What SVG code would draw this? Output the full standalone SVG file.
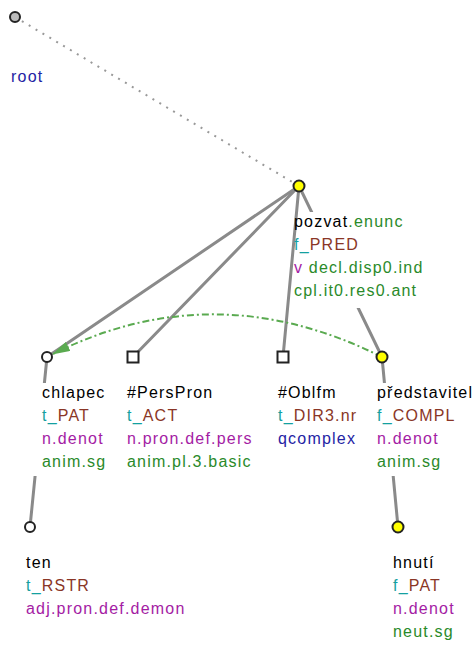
<svg xmlns="http://www.w3.org/2000/svg" width="475" height="646" viewBox="0 0 475 646">
<style>
text{font-family:"Liberation Sans",Arial,sans-serif;font-size:16px;letter-spacing:1.2px;fill:#000}
.edge{stroke:#8a8a8a;stroke-width:3;stroke-linecap:round;fill:none}
.root-edge{stroke:#999;stroke-width:2;stroke-dasharray:2 6;fill:none}
.coref{stroke:#5aaa50;stroke-width:2;stroke-dasharray:7 3 2 3;fill:none}
.bg{fill:#fff}
.circ{stroke:#222;stroke-width:2}
.yel{fill:#ffff00}
.wht{fill:#fff}
.sq{fill:#fff;stroke:#222;stroke-width:2}
.fp{fill:#14a0a0}
.fn{fill:#8a3626}
.pu{fill:#a41ca4}
.gr{fill:#2a8a2a}
.bl{fill:#2424a4}
</style>
<defs>
<marker id="arr" markerUnits="userSpaceOnUse" markerWidth="19" markerHeight="10" refX="18" refY="5" orient="auto">
<path d="M0,0 L18,5 L0,10 z" fill="#5aaa50"/>
</marker>
</defs>
<g id="connectors">
<line class="root-edge" x1="15" y1="17" x2="299" y2="186"/>
<line class="edge" x1="299" y1="186" x2="47" y2="357"/>
<line class="edge" x1="299" y1="186" x2="133" y2="357"/>
<line class="edge" x1="299" y1="186" x2="283" y2="357"/>
<line class="edge" x1="299" y1="186" x2="382" y2="357"/>
<line class="edge" x1="47" y1="357" x2="30" y2="527"/>
<line class="edge" x1="382" y1="357" x2="398" y2="527"/>
<path class="coref" d="M382,357 Q214,273 52,354.5" marker-end="url(#arr)"/>
</g>
<g id="root">
<circle cx="15" cy="17" r="5" fill="#bbbbbb" class="circ"/>
<text x="11" y="82" class="bl">root</text>
</g>
<g id="pozvat">
<rect class="bg" x="298" y="212" width="130" height="96"/>
<circle cx="299" cy="186" r="5.5" class="circ yel"/>
<text x="294" y="227">pozvat<tspan class="gr">.enunc</tspan></text>
<text x="294" y="250"><tspan class="fp">f_</tspan><tspan class="fn">PRED</tspan></text>
<text x="294" y="273"><tspan class="pu">v</tspan><tspan class="gr"> decl.disp0.ind</tspan></text>
<text x="294" y="296" class="gr">cpl.it0.res0.ant</text>
</g>
<g id="chlapec">
<rect class="bg" x="33" y="383" width="80" height="93"/>
<circle cx="47" cy="357" r="5" class="circ wht"/>
<text x="42" y="398">chlapec</text>
<text x="42" y="421"><tspan class="fp">t_</tspan><tspan class="fn">PAT</tspan></text>
<text x="42" y="444" class="pu">n.denot</text>
<text x="42" y="467" class="gr">anim.sg</text>
</g>
<g id="perspron">
<rect class="sq" x="127.5" y="351.5" width="11" height="11"/>
<text x="127" y="398">#PersPron</text>
<text x="127" y="421"><tspan class="fp">t_</tspan><tspan class="fn">ACT</tspan></text>
<text x="127" y="444" class="pu">n.pron.def.pers</text>
<text x="127" y="467" class="gr">anim.pl.3.basic</text>
</g>
<g id="oblfm">
<rect class="sq" x="277.5" y="351.5" width="11" height="11"/>
<text x="278" y="398">#Oblfm</text>
<text x="278" y="421"><tspan class="fp">t_</tspan><tspan class="fn">DIR3.nr</tspan></text>
<text x="278" y="444" class="bl">qcomplex</text>
</g>
<g id="predstavitel">
<rect class="bg" x="375" y="383" width="100" height="93"/>
<circle cx="382" cy="357" r="5.5" class="circ yel"/>
<text x="377" y="398">představitel</text>
<text x="377" y="421"><tspan class="fp">f_</tspan><tspan class="fn">COMPL</tspan></text>
<text x="377" y="444" class="pu">n.denot</text>
<text x="377" y="467" class="gr">anim.sg</text>
</g>
<g id="ten">
<circle cx="30" cy="527" r="5" class="circ wht"/>
<text x="26" y="568">ten</text>
<text x="26" y="591"><tspan class="fp">t_</tspan><tspan class="fn">RSTR</tspan></text>
<text x="26" y="614" class="pu">adj.pron.def.demon</text>
</g>
<g id="hnuti">
<circle cx="398" cy="527" r="5.5" class="circ yel"/>
<text x="393" y="568">hnutí</text>
<text x="393" y="591"><tspan class="fp">f_</tspan><tspan class="fn">PAT</tspan></text>
<text x="393" y="614" class="pu">n.denot</text>
<text x="393" y="637" class="gr">neut.sg</text>
</g>
</svg>
